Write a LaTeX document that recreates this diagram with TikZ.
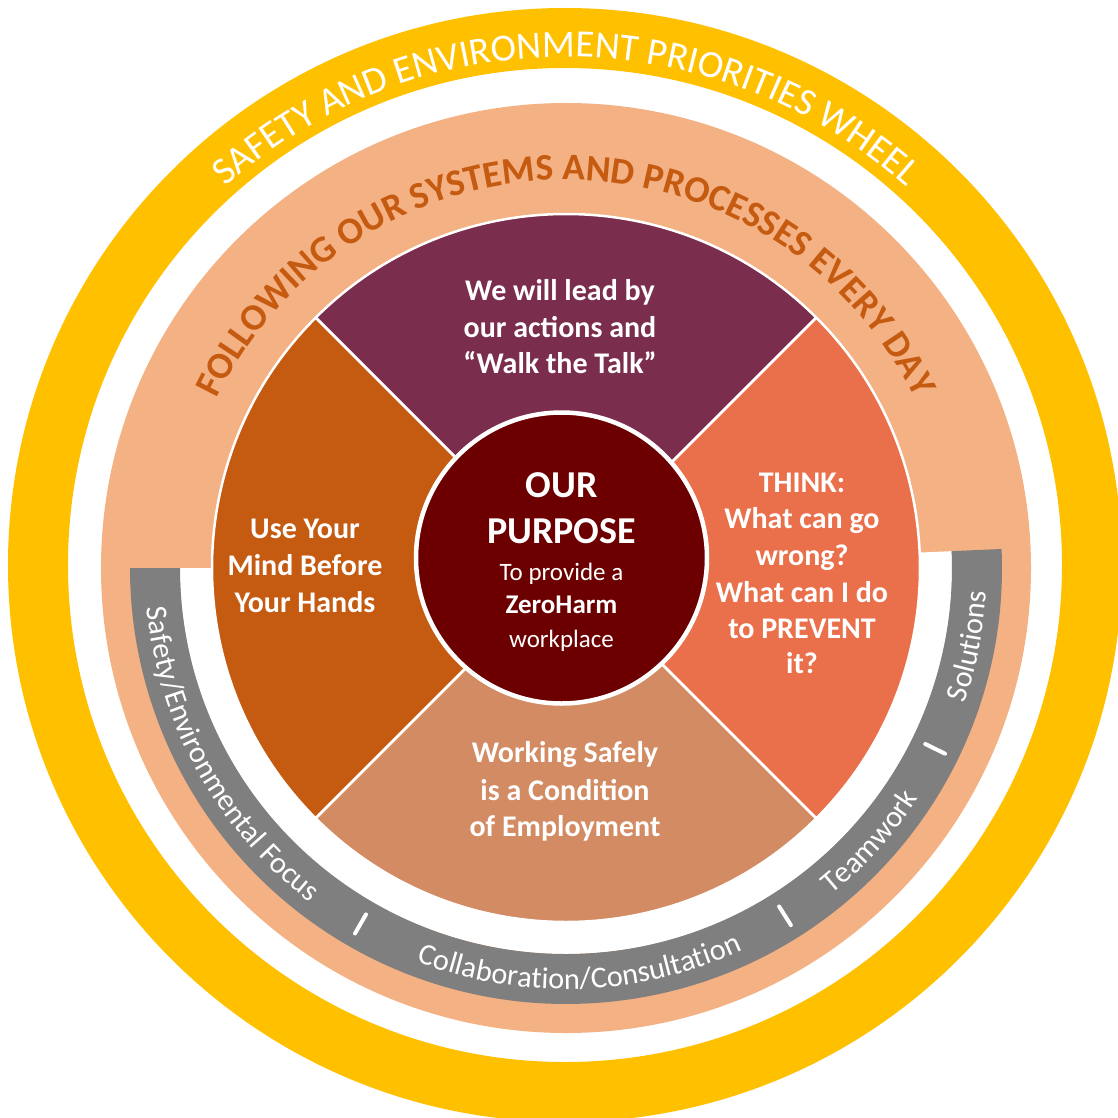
\documentclass[tikz,border=0pt]{standalone}
\usepackage{fontspec}
\setmainfont{Carlito}
\usetikzlibrary{decorations.text}

\definecolor{ringgold}{RGB}{255,192,0}
\definecolor{peach}{RGB}{244,177,131}
\definecolor{rust}{RGB}{197,90,17}
\definecolor{plum}{RGB}{122,45,76}
\definecolor{coral}{RGB}{233,112,74}
\definecolor{sand}{RGB}{210,139,98}
\definecolor{hubred}{RGB}{108,0,0}
\definecolor{slate}{RGB}{127,127,127}

\begin{document}
\begin{tikzpicture}[x=1pt,y=1pt,
  sector/.style={draw=white, line width=2.5pt, line join=round},
  qline/.style={text=white, font=\bfseries\fontsize{30}{36}\selectfont, anchor=base, inner sep=0pt},
  hubline/.style={text=white, anchor=base, inner sep=0pt},
  bandsep/.style={draw=white, line width=4pt, line cap=round},
  arctext/.style={decorate, decoration={text along path, text align=center, text color=#1}},
]
\useasboundingbox (-566,-549) rectangle (552,568);
\clip (-566,-549) rectangle (552,568);
\fill[white] (-566,-549) rectangle (552,568);

% outer gold ring
\fill[ringgold, even odd rule] (-1,3) circle (557) (-1,3) circle (497);

% peach disc
\fill[peach] (0,0) circle (465);

% white channel and grey band round the lower part
\fill[white] (180:340) arc (180:362.5:340) -- (362.5:386) arc (362.5:180:386) -- cycle;
\fill[slate] (180:386) arc (180:362.5:386) -- (362.5:436) arc (362.5:180:436) -- cycle;

% four sectors
\path[sector, fill=plum]  (0,0) -- (45:354) arc (45:135:354) -- cycle;
\path[sector, fill=rust]  (0,0) -- (135:354) arc (135:225:354) -- cycle;
\path[sector, fill=sand]  (0,0) -- (225:354) arc (225:315:354) -- cycle;
\path[sector, fill=coral] (0,0) -- (315:354) arc (315:405:354) -- cycle;

% hub
\node[circle, fill=hubred, draw=white, line width=4.5pt, minimum size=291pt, inner sep=0pt] (hub) at (-4.5,10) {};
\node[hubline, font=\bfseries\fontsize{38}{38}\selectfont] (hubA) at (-4.5,71) {OUR};
\node[hubline, font=\bfseries\fontsize{38}{38}\selectfont] (hubB) at (-4.5,25) {PURPOSE};
\node[hubline, font=\fontsize{25}{25}\selectfont] (hubC) at (-4.5,-12) {To provide a};
\node[hubline, font=\bfseries\fontsize{27}{27}\selectfont] (hubD) at (-4.5,-45) {ZeroHarm};
\node[hubline, font=\fontsize{25}{25}\selectfont] (hubE) at (-4.5,-79) {workplace};

% sector captions
\node[qline] (topA) at (-6,268) {We will lead by};
\node[qline] (topB) at (-6,231) {our actions and};
\node[qline] (topC) at (-6,195) {“Walk the Talk”};

\node[qline] (leftA) at (-261,30) {Use Your};
\node[qline] (leftB) at (-261,-7) {Mind Before};
\node[qline] (leftC) at (-261,-44) {Your Hands};

\node[qline] (rightA) at (236,76) {THINK:};
\node[qline] (rightB) at (236,40) {What can go};
\node[qline] (rightC) at (236,3) {wrong?};
\node[qline] (rightD) at (236,-34) {What can I do};
\node[qline] (rightE) at (236,-70) {to PREVENT};
\node[qline] (rightF) at (236,-105) {it?};

\node[qline] (botA) at (-1,-194) {Working Safely};
\node[qline] (botB) at (-1,-232) {is a Condition};
\node[qline] (botC) at (-1,-268) {of Employment};

% curved titles
\path[arctext=white, decoration={text={|\fontsize{38.5}{38.5}\selectfont|SAFETY AND ENVIRONMENT PRIORITIES WHEEL}}]
  (170:511) arc (170:10:511);
\path[arctext=rust, decoration={text={|\bfseries\fontsize{37.5}{37.5}\selectfont|FOLLOWING OUR SYSTEMS AND PROCESSES EVERY DAY}}]
  (172:388) arc (172:8:388);

% grey band words
\path[arctext=white, decoration={text={|\fontsize{30.3}{30.3}\selectfont|Safety/Environmental Focus}}]
  (179:421) arc (179:239:421);
\path[arctext=white, decoration={text={|\fontsize{30.3}{30.3}\selectfont|Collaboration/Consultation}}]
  (242:421) arc (242:302:421);
\path[arctext=white, decoration={text={|\fontsize{30.3}{30.3}\selectfont|Teamwork}}]
  (303:421) arc (303:333:421);
\path[arctext=white, decoration={text={|\fontsize{30.3}{30.3}\selectfont|Solutions}}]
  (336:421) arc (336:362:421);

% separators between the band words
\draw[bandsep] (240:400) -- (240:422);
\draw[bandsep] (302.2:400) -- (302.2:422);
\draw[bandsep] (333.9:400) -- (333.9:422);
\end{tikzpicture}
\end{document}
